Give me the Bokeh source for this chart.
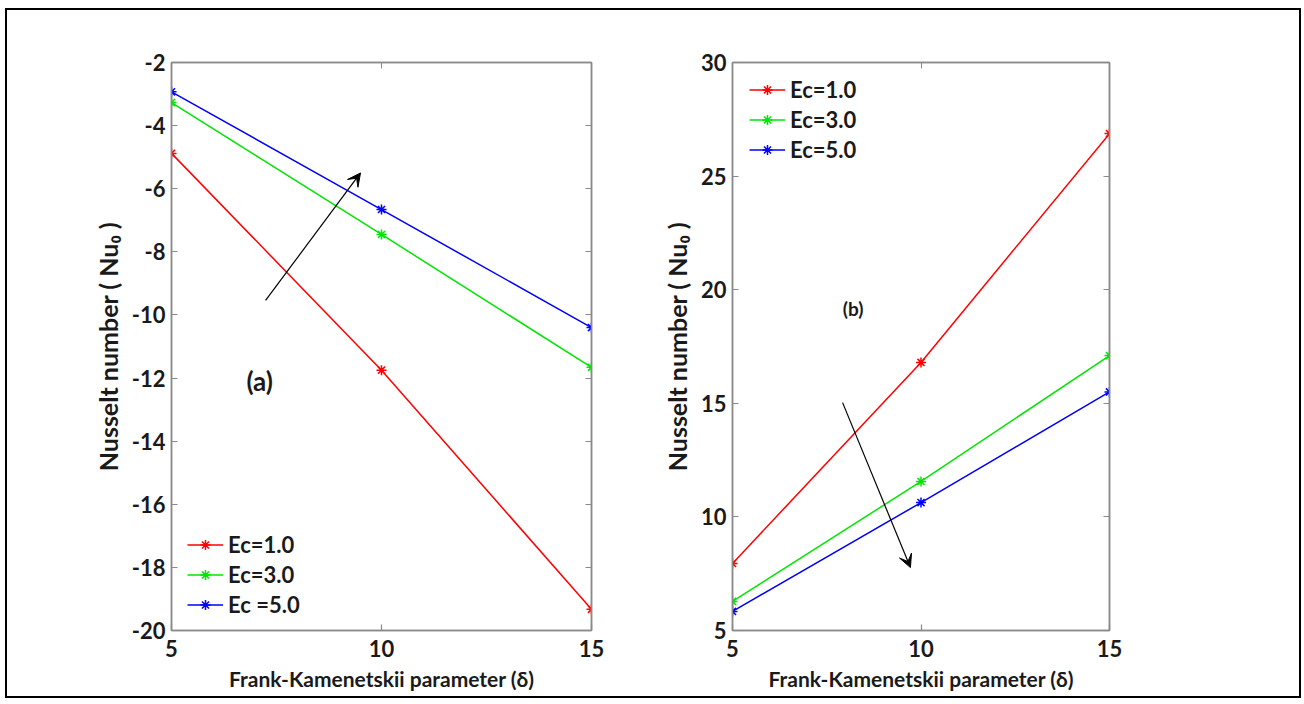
from bokeh.plotting import figure
from bokeh.layouts import row
from bokeh.models import (Legend, LegendItem, LinearAxis, FixedTicker, Arrow,
                          VeeHead, Label, Range1d, PrintfTickFormatter,
                          CustomJSTickFormatter)
from bokeh.embed import file_html
from bokeh.resources import INLINE

# ---------------- data ----------------
delta = [5, 10, 15]
ec_labels_a = ["Ec=1.0", "Ec=3.0", "Ec =5.0"]
ec_labels_b = ["Ec=1.0", "Ec=3.0", "Ec=5.0"]
colors = ["#ff0000", "#00e600", "#0000ff"]

nu_a_ec1 = [-4.88, -11.75, -19.33]
nu_a_ec3 = [-3.27, -7.45, -11.66]
nu_a_ec5 = [-2.93, -6.66, -10.40]

nu_b_ec1 = [7.95, 16.80, 26.87]
nu_b_ec3 = [6.28, 11.56, 17.10]
nu_b_ec5 = [5.84, 10.63, 15.50]

x_ticks = [5, 10, 15]
y_ticks_a = [-20, -18, -16, -14, -12, -10, -8, -6, -4, -2]
y_ticks_b = [5, 10, 15, 20, 25, 30]

# annotation arrows (data coords): x_start, y_start, x_end, y_end
arrow_a = [7.24, -9.54, 9.5, -5.5]
arrow_b = [7.92, 15.03, 9.72, 7.77]
panel_label_a = [7.1, -12.08]
panel_label_b = [8.2, 19.17]

FONT = "Lato"
AXIS_COLOR = "#8a8a8a"
TEXT_COLOR = "#1a1a1a"


def mirror_axis(ticks):
    return LinearAxis(ticker=FixedTicker(ticks=ticks),
                      formatter=CustomJSTickFormatter(code="return ''"),
                      axis_line_color=AXIS_COLOR, axis_line_width=1.5,
                      major_tick_line_color=AXIS_COLOR, major_tick_in=6,
                      major_tick_out=0, minor_tick_line_color=None,
                      major_label_standoff=0)


def style_axes(p, xt, yt):
    for ax in list(p.xaxis) + list(p.yaxis):
        ax.axis_line_color = AXIS_COLOR
        ax.axis_line_width = 1.5
        ax.major_tick_line_color = AXIS_COLOR
        ax.major_tick_line_width = 1.2
        ax.major_tick_in = 6
        ax.major_tick_out = 0
        ax.minor_tick_line_color = None
        ax.major_label_text_font = FONT
        ax.major_label_text_font_style = "bold"
        ax.major_label_text_font_size = "22px"
        ax.major_label_text_color = TEXT_COLOR
        ax.axis_label_text_font = FONT
        ax.axis_label_text_font_style = "bold"
        ax.axis_label_text_color = TEXT_COLOR
        ax.formatter = PrintfTickFormatter(format="%d")
    p.xaxis.axis_label_text_font_size = "21px"
    p.yaxis.axis_label_text_font_size = "25px"
    p.xaxis.ticker = FixedTicker(ticks=xt)
    p.yaxis.ticker = FixedTicker(ticks=yt)
    p.xaxis.major_label_standoff = 9
    p.yaxis.major_label_standoff = 6
    p.xaxis.axis_label_standoff = 6
    p.yaxis.axis_label_standoff = 6
    p.add_layout(mirror_axis(xt), "above")
    p.add_layout(mirror_axis(yt), "right")
    p.xgrid.grid_line_color = None
    p.ygrid.grid_line_color = None
    p.outline_line_color = AXIS_COLOR
    p.outline_line_width = 1.5


def make_panel(series, labels, yr, yt, width, left, right, legend_loc, arrow, plabel,
               plabel_size):
    p = figure(width=width, height=686, output_backend="svg", toolbar_location=None,
               x_range=Range1d(5, 15), y_range=Range1d(*yr),
               min_border_left=left, min_border_right=right,
               min_border_top=52, min_border_bottom=66,
               x_axis_label="Frank-Kamenetskii parameter (δ)",
               y_axis_label="Nusselt number ( Nu₀ )",
               background_fill_color="white", border_fill_color="white")
    style_axes(p, x_ticks, yt)
    items = []
    for ys, lab, c in zip(series, labels, colors):
        ln = p.line(delta, ys, line_color=c, line_width=1.5)
        sc = p.scatter(delta, ys, marker="asterisk", size=10, line_color=c, line_width=1.5)
        items.append(LegendItem(label=lab, renderers=[ln, sc]))
    leg = Legend(items=items, location=legend_loc, border_line_alpha=0,
                 background_fill_alpha=0, padding=0, margin=0, spacing=3,
                 label_height=25, glyph_height=25, glyph_width=36, label_standoff=5,
                 label_text_font=FONT, label_text_font_style="bold",
                 label_text_font_size="22px", label_text_color=TEXT_COLOR)
    p.add_layout(leg)
    p.add_layout(Arrow(x_start=arrow[0], y_start=arrow[1], x_end=arrow[2], y_end=arrow[3],
                       line_color="black", line_width=1.2,
                       end=VeeHead(size=13, fill_color="black", line_color="black")))
    p.add_layout(Label(x=plabel[0], y=plabel[1], text=plabel[2], text_align="center",
                       text_baseline="middle", text_font=FONT, text_font_style="bold",
                       text_font_size=plabel_size, text_color=TEXT_COLOR))
    return p


pa = make_panel([nu_a_ec1, nu_a_ec3, nu_a_ec5], ec_labels_a, (-20, -2), y_ticks_a,
                643, 164, 59, (16, 12), arrow_a, panel_label_a + ["(a)"], "26px")
pb = make_panel([nu_b_ec1, nu_b_ec3, nu_b_ec5], ec_labels_b, (5, 30), y_ticks_b,
                649, 82, 190, (17, 467), arrow_b, panel_label_b + ["(b)"], "19px")

layout = row(pa, pb, margin=(8, 0, 0, 5),
             styles={"border": "2px solid black", "background-color": "white"})

open("out.html", "w").write(file_html(layout, INLINE))
